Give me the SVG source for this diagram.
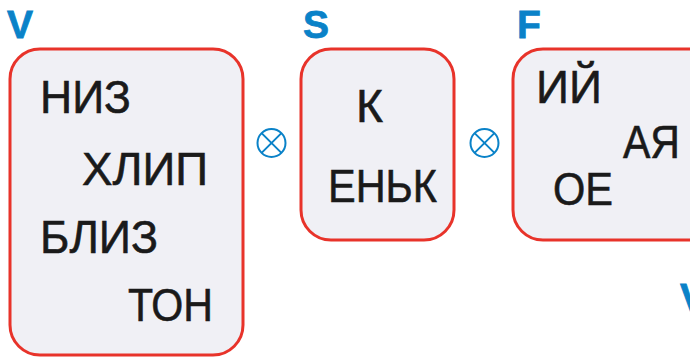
<svg xmlns="http://www.w3.org/2000/svg" width="690" height="357" viewBox="0 0 690 357">
<style>
.box{fill:#f0f0f5;stroke:#e8332a;stroke-width:3}
.t{font-family:"Liberation Sans","DejaVu Sans",sans-serif;font-size:47px;fill:#1a1a1a;stroke:#1a1a1a;stroke-width:0.6}
.lbl{font-family:"Liberation Sans","DejaVu Sans",sans-serif;font-size:39px;font-weight:bold;fill:#0a82c8;stroke:#0a82c8;stroke-width:0.8}
.op{fill:none;stroke:#0a82c8;stroke-width:2}
</style>
<rect width="690" height="357" fill="#ffffff"/>
<g id="V">
<text class="lbl" x="7" y="38">V</text>
<rect class="box" x="10" y="49" width="233" height="306" rx="30"/>
<text class="t" x="40" y="113" textLength="91" lengthAdjust="spacingAndGlyphs">НИЗ</text>
<text class="t" x="82" y="185" textLength="126" lengthAdjust="spacingAndGlyphs">ХЛИП</text>
<text class="t" x="40" y="253" textLength="118" lengthAdjust="spacingAndGlyphs">БЛИЗ</text>
<text class="t" x="128" y="321" textLength="85" lengthAdjust="spacingAndGlyphs">ТОН</text>
</g>
<g id="op1">
<circle class="op" cx="271.5" cy="143" r="14"/>
<path class="op" d="M261.6 133.1L281.4 152.9M281.4 133.1L261.6 152.9"/>
</g>
<g id="S">
<text class="lbl" x="303" y="38">S</text>
<rect class="box" x="301" y="49" width="153" height="191" rx="30"/>
<text class="t" x="356" y="122" textLength="27" lengthAdjust="spacingAndGlyphs">К</text>
<text class="t" x="328" y="202" textLength="109" lengthAdjust="spacingAndGlyphs">ЕНЬК</text>
</g>
<g id="op2">
<circle class="op" cx="484.5" cy="143" r="14"/>
<path class="op" d="M474.6 133.1L494.4 152.9M494.4 133.1L474.6 152.9"/>
</g>
<g id="F">
<text class="lbl" x="517" y="38">F</text>
<rect class="box" x="513" y="49" width="210" height="191" rx="30"/>
<text class="t" x="536" y="103" textLength="66" lengthAdjust="spacingAndGlyphs">ИЙ</text>
<text class="t" x="623" y="158" textLength="57" lengthAdjust="spacingAndGlyphs">АЯ</text>
<text class="t" x="553" y="205" textLength="60" lengthAdjust="spacingAndGlyphs">ОЕ</text>
</g>
<g id="V2">
<text class="lbl" x="680" y="311">V</text>
</g>
<g id="connectors"></g>
</svg>
